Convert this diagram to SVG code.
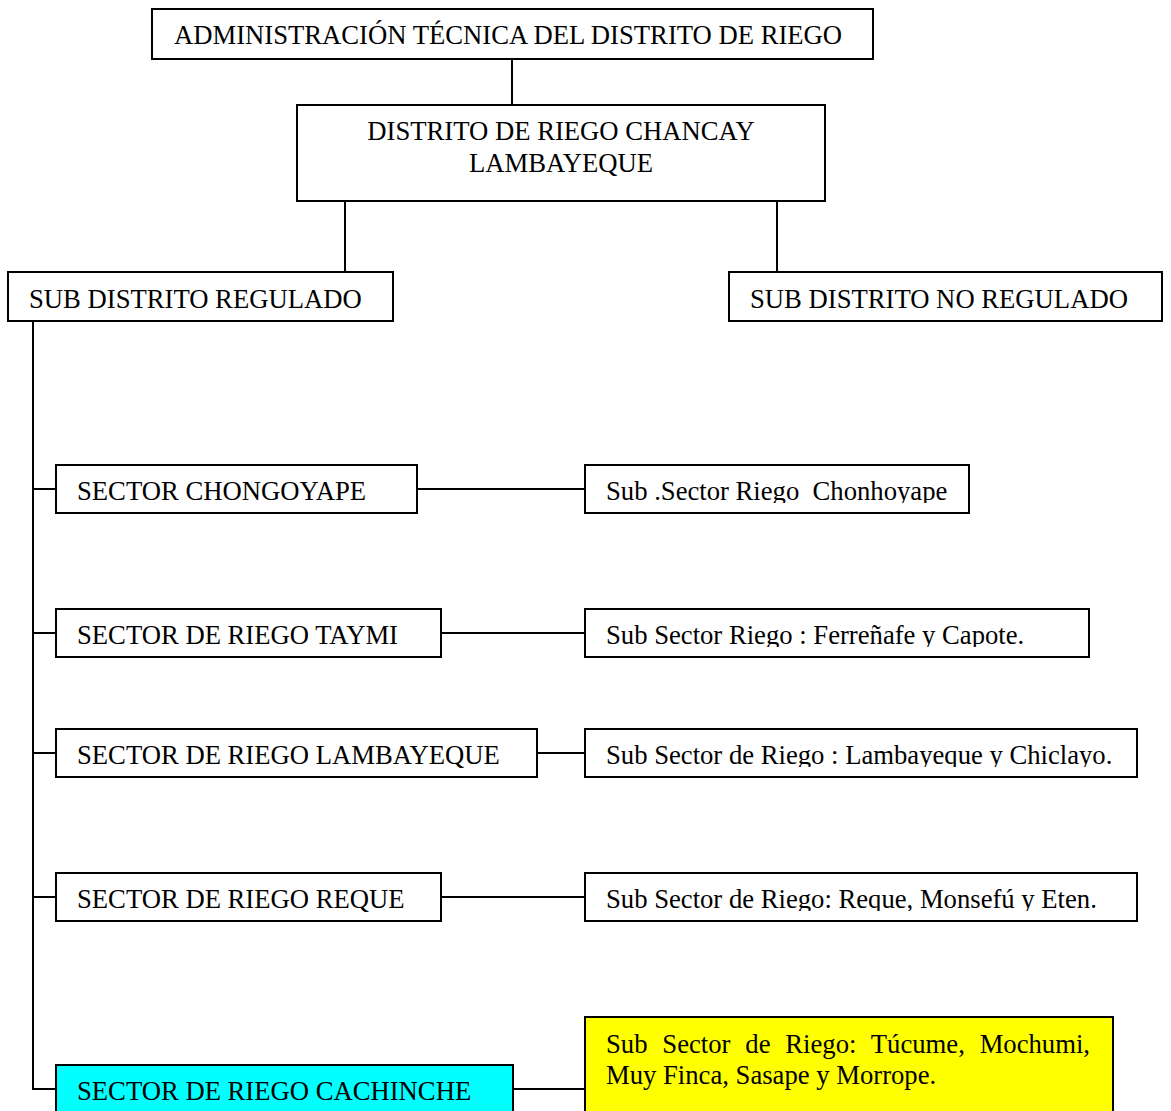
<svg xmlns="http://www.w3.org/2000/svg" width="1171" height="1111" viewBox="0 0 1171 1111">
<style>
.box{fill:#fff;stroke:#000;stroke-width:2}
.cyan{fill:#00ffff;stroke:#000;stroke-width:2}
.yel{fill:#ffff00;stroke:#000;stroke-width:2}
.t{font-family:"Liberation Serif","Times New Roman",serif;font-size:26.67px;fill:#000;white-space:pre}
.c{text-anchor:middle}
.ln{stroke:#000;stroke-width:2;fill:none}
</style>
<defs>
<clipPath id="c1"><rect x="585" y="465" width="384" height="38"/></clipPath>
<clipPath id="c2"><rect x="585" y="609" width="504" height="38"/></clipPath>
<clipPath id="c3"><rect x="585" y="729" width="552" height="38"/></clipPath>
<clipPath id="c4"><rect x="585" y="873" width="552" height="38"/></clipPath>
</defs>
<rect width="1171" height="1111" fill="#fff"/>
<g id="connectors">
<path class="ln" d="M512 59V105"/>
<path class="ln" d="M345 201V272"/>
<path class="ln" d="M777 201V272"/>
<path class="ln" d="M33 321V1089H56"/>
<path class="ln" d="M33 489H56"/>
<path class="ln" d="M33 633H56"/>
<path class="ln" d="M33 753H56"/>
<path class="ln" d="M33 897H56"/>
<path class="ln" d="M417 489H585"/>
<path class="ln" d="M441 633H585"/>
<path class="ln" d="M537 753H585"/>
<path class="ln" d="M441 897H585"/>
<path class="ln" d="M513 1089H585"/>
</g>
<g id="n-admin">
<rect class="box" x="152" y="9" width="721" height="50"/>
<text class="t" x="174" y="44">ADMINISTRACIÓN TÉCNICA DEL DISTRITO DE RIEGO</text>
</g>
<g id="n-distrito">
<rect class="box" x="297" y="105" width="528" height="96"/>
<text class="t c" x="561" y="140">DISTRITO DE RIEGO CHANCAY</text>
<text class="t c" x="561" y="172">LAMBAYEQUE</text>
</g>
<g id="n-regulado">
<rect class="box" x="8" y="272" width="385" height="49"/>
<text class="t" x="29" y="308">SUB DISTRITO REGULADO</text>
</g>
<g id="n-noregulado">
<rect class="box" x="729" y="272" width="433" height="49"/>
<text class="t" x="750" y="308">SUB DISTRITO NO REGULADO</text>
</g>
<g id="n-chongoyape">
<rect class="box" x="56" y="465" width="361" height="48"/>
<text class="t" x="77" y="500">SECTOR CHONGOYAPE</text>
</g>
<g id="n-sub-chongoyape">
<rect class="box" x="585" y="465" width="384" height="48"/>
<text class="t" x="606" y="500" clip-path="url(#c1)">Sub .Sector Riego  Chonhoyape</text>
</g>
<g id="n-taymi">
<rect class="box" x="56" y="609" width="385" height="48"/>
<text class="t" x="77" y="644">SECTOR DE RIEGO TAYMI</text>
</g>
<g id="n-sub-taymi">
<rect class="box" x="585" y="609" width="504" height="48"/>
<text class="t" x="606" y="644" clip-path="url(#c2)">Sub Sector Riego : Ferreñafe y Capote.</text>
</g>
<g id="n-lambayeque">
<rect class="box" x="56" y="729" width="481" height="48"/>
<text class="t" x="77" y="764">SECTOR DE RIEGO LAMBAYEQUE</text>
</g>
<g id="n-sub-lambayeque">
<rect class="box" x="585" y="729" width="552" height="48"/>
<text class="t" x="606" y="764" clip-path="url(#c3)">Sub Sector de Riego : Lambayeque y Chiclayo.</text>
</g>
<g id="n-reque">
<rect class="box" x="56" y="873" width="385" height="48"/>
<text class="t" x="77" y="908">SECTOR DE RIEGO REQUE</text>
</g>
<g id="n-sub-reque">
<rect class="box" x="585" y="873" width="552" height="48"/>
<text class="t" x="606" y="908" clip-path="url(#c4)">Sub Sector de Riego: Reque, Monsefú y Eten.</text>
</g>
<g id="n-cachinche">
<rect class="cyan" x="56" y="1065" width="457" height="60"/>
<text class="t" x="77" y="1100">SECTOR DE RIEGO CACHINCHE</text>
</g>
<g id="n-sub-cachinche">
<rect class="yel" x="585" y="1017" width="528" height="110"/>
<text class="t" x="606" y="1053" word-spacing="8.2">Sub Sector de Riego: Túcume, Mochumi,</text>
<text class="t" x="606" y="1084">Muy Finca, Sasape y Morrope.</text>
</g>
</svg>
